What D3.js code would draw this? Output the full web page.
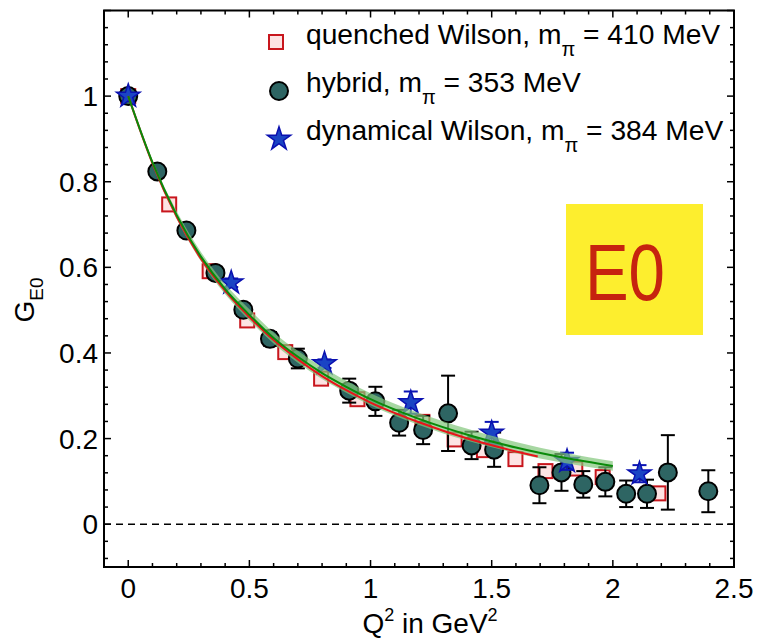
<!DOCTYPE html>
<html>
<head>
<meta charset="utf-8">
<script src="https://cdn.jsdelivr.net/npm/d3@7"></script>
<style>
body { margin: 0; background: #fff; }
text { font-family: "Liberation Sans", Arial, sans-serif; }
</style>
</head>
<body>
<svg id="chart"></svg>
<script>
// G_E0 form factor vs Q^2

// quenched Wilson
var quenchedQ2 = [0, 0.169, 0.336, 0.491, 0.648, 0.796, 0.946, 1.214, 1.347, 1.468, 1.598, 1.722, 1.845, 1.958, 2.188];
var quenchedG  = [1.0, 0.747, 0.591, 0.476, 0.402, 0.340, 0.292, 0.239, 0.198, 0.173, 0.152, 0.124, 0.130, 0.110, 0.072];

// hybrid
var hybridQ2  = [0, 0.12, 0.24, 0.36, 0.475, 0.585, 0.70, 0.912, 1.02, 1.118, 1.217, 1.32, 1.417, 1.51, 1.697, 1.788, 1.878, 1.969, 2.055, 2.141, 2.227, 2.394];
var hybridG   = [1.0, 0.824, 0.686, 0.587, 0.501, 0.433, 0.387, 0.312, 0.287, 0.237, 0.220, 0.259, 0.184, 0.174, 0.091, 0.121, 0.093, 0.099, 0.071, 0.071, 0.121, 0.077];
var hybridErr = [0, 0.005, 0.008, 0.010, 0.014, 0.016, 0.023, 0.028, 0.034, 0.030, 0.033, 0.088, 0.032, 0.040, 0.042, 0.043, 0.031, 0.034, 0.031, 0.033, 0.087, 0.049];

// dynamical Wilson
var dynQ2  = [0, 0.425, 0.81, 1.166, 1.50, 1.811, 2.11];
var dynG   = [1.0, 0.564, 0.375, 0.284, 0.213, 0.147, 0.118];
var dynErr = [0, 0.010, 0.010, 0.026, 0.026, 0.020, 0.020];

// fit curves
var fitQ2    = [0, 0.1, 0.2, 0.3, 0.4, 0.5, 0.6, 0.7, 0.8, 0.9, 1.0, 1.2, 1.4, 1.6, 1.8, 2.0];
var greenFit = [1.0, 0.845, 0.722, 0.625, 0.549, 0.489, 0.435, 0.391, 0.353, 0.321, 0.292, 0.246, 0.209, 0.179, 0.155, 0.136];
var greenErr = [0, 0.006, 0.009, 0.011, 0.012, 0.013, 0.013, 0.014, 0.014, 0.014, 0.014, 0.014, 0.014, 0.013, 0.012, 0.011];
var redQ2    = [0, 0.1, 0.2, 0.3, 0.4, 0.5, 0.6, 0.7, 0.8, 0.9, 1.0, 1.2, 1.4, 1.6, 1.69];
var redFit   = [1.0, 0.843, 0.718, 0.620, 0.545, 0.484, 0.430, 0.385, 0.346, 0.313, 0.284, 0.238, 0.200, 0.170, 0.158];

var xTicks = [0, 0.5, 1, 1.5, 2, 2.5];
var yTicks = [0, 0.2, 0.4, 0.6, 0.8, 1];

var legendLabels = [
    ["quenched Wilson, m", "410 MeV"],
    ["hybrid, m", "353 MeV"],
    ["dynamical Wilson, m", "384 MeV"]
];

var svgWidth = 758, svgHeight = 640;
var svg = d3.select("#chart")
    .attr("width", svgWidth)
    .attr("height", svgHeight);

var x = d3.scaleLinear().domain([-0.1, 2.5]).range([104, 734]);
var y = d3.scaleLinear().domain([-0.1, 1.2]).range([567, 10.5]);

function zip(a, b, c) {
    return a.map(function(v, i) { return {q: v, g: b[i], e: c ? c[i] : 0}; });
}
var quenched = zip(quenchedQ2, quenchedG);
var hybrid = zip(hybridQ2, hybridG, hybridErr);
var dyn = zip(dynQ2, dynG, dynErr);
var green = zip(fitQ2, greenFit, greenErr);
var red = zip(redQ2, redFit);

// dashed zero line
svg.append("line")
    .attr("x1", x(-0.1)).attr("x2", x(2.5))
    .attr("y1", y(0)).attr("y2", y(0))
    .attr("stroke", "#000").attr("stroke-width", 1.5)
    .attr("stroke-dasharray", "7,5");

// quenched squares
svg.selectAll("rect.q")
    .data(quenched)
    .enter()
    .append("rect")
    .attr("class", "q")
    .attr("x", function(d) { return x(d.q) - 7; })
    .attr("y", function(d) { return y(d.g) - 7; })
    .attr("width", 14).attr("height", 14)
    .attr("fill", "#fde3e3")
    .attr("stroke", "#c8161d")
    .attr("stroke-width", 2);

// error bars
function errorBars(data, color, cls) {
    var eb = svg.selectAll("g." + cls)
        .data(data.filter(function(d) { return d.e > 0; }))
        .enter()
        .append("g")
        .attr("class", cls)
        .attr("stroke", color)
        .attr("stroke-width", 2);
    eb.append("line")
        .attr("x1", function(d) { return x(d.q); })
        .attr("x2", function(d) { return x(d.q); })
        .attr("y1", function(d) { return y(d.g - d.e); })
        .attr("y2", function(d) { return y(d.g + d.e); });
    eb.append("line")
        .attr("x1", function(d) { return x(d.q) - 7; })
        .attr("x2", function(d) { return x(d.q) + 7; })
        .attr("y1", function(d) { return y(d.g - d.e); })
        .attr("y2", function(d) { return y(d.g - d.e); });
    eb.append("line")
        .attr("x1", function(d) { return x(d.q) - 7; })
        .attr("x2", function(d) { return x(d.q) + 7; })
        .attr("y1", function(d) { return y(d.g + d.e); })
        .attr("y2", function(d) { return y(d.g + d.e); });
}

errorBars(hybrid, "#000", "he");

svg.selectAll("circle.h")
    .data(hybrid)
    .enter()
    .append("circle")
    .attr("class", "h")
    .attr("cx", function(d) { return x(d.q); })
    .attr("cy", function(d) { return y(d.g); })
    .attr("r", 9)
    .attr("fill", "#2e6563")
    .attr("stroke", "#000")
    .attr("stroke-width", 2);

errorBars(dyn, "#0a14b4", "de");

var star = d3.symbol().type(d3.symbolStar).size(170);
svg.selectAll("path.d")
    .data(dyn)
    .enter()
    .append("path")
    .attr("class", "d")
    .attr("d", star)
    .attr("transform", function(d) { return "translate(" + x(d.q) + "," + y(d.g) + ")"; })
    .attr("fill", "#1a44c4")
    .attr("stroke", "#0a10b0")
    .attr("stroke-width", 1.5);

// fit band and lines
var area = d3.area()
    .x(function(d) { return x(d.q); })
    .y0(function(d) { return y(d.g - d.e); })
    .y1(function(d) { return y(d.g + d.e); })
    .curve(d3.curveMonotoneX);
svg.append("path")
    .datum(green)
    .attr("d", area)
    .attr("fill", "#82c67a")
    .attr("fill-opacity", 0.7);

var line = d3.line()
    .x(function(d) { return x(d.q); })
    .y(function(d) { return y(d.g); })
    .curve(d3.curveMonotoneX);
svg.append("path")
    .datum(red)
    .attr("d", line)
    .attr("fill", "none")
    .attr("stroke", "#e8141b")
    .attr("stroke-width", 2);
svg.append("path")
    .datum(green)
    .attr("d", line)
    .attr("fill", "none")
    .attr("stroke", "#0a8a0a")
    .attr("stroke-width", 2);

// frame with inward ticks on all sides
var frame = svg.append("g").attr("stroke", "#000").attr("stroke-width", 2);
frame.append("rect")
    .attr("x", x(-0.1)).attr("y", y(1.2))
    .attr("width", x(2.5) - x(-0.1)).attr("height", y(-0.1) - y(1.2))
    .attr("fill", "none");

var xMinor = d3.range(0, 26).map(function(i) { return i / 10; });
var yMinor = d3.range(-2, 31).map(function(i) { return i * 0.04; });

xMinor.forEach(function(v) {
    var major = xTicks.indexOf(Math.round(v * 10) / 10) >= 0;
    var len = major ? 7 : 4;
    frame.append("line").attr("x1", x(v)).attr("x2", x(v))
        .attr("y1", y(-0.1)).attr("y2", y(-0.1) - len).attr("stroke-width", 1.5);
    frame.append("line").attr("x1", x(v)).attr("x2", x(v))
        .attr("y1", y(1.2)).attr("y2", y(1.2) + len).attr("stroke-width", 1.5);
});
yMinor.forEach(function(v) {
    var r = Math.round(v * 100) / 100;
    var major = Math.abs(r * 5 - Math.round(r * 5)) < 1e-6;
    var len = major ? 7 : 4;
    frame.append("line").attr("y1", y(v)).attr("y2", y(v))
        .attr("x1", x(-0.1)).attr("x2", x(-0.1) + len).attr("stroke-width", 1.5);
    frame.append("line").attr("y1", y(v)).attr("y2", y(v))
        .attr("x1", x(2.5)).attr("x2", x(2.5) - len).attr("stroke-width", 1.5);
});

// tick labels
svg.selectAll("text.xt")
    .data(xTicks)
    .enter()
    .append("text")
    .attr("x", function(d) { return x(d); })
    .attr("y", 598)
    .attr("text-anchor", "middle")
    .attr("font-size", 28)
    .text(function(d) { return d; });
svg.selectAll("text.yt")
    .data(yTicks)
    .enter()
    .append("text")
    .attr("x", 98)
    .attr("y", function(d) { return y(d) + 10; })
    .attr("text-anchor", "end")
    .attr("font-size", 28)
    .text(function(d) { return d; });

// axis titles
var xt = svg.append("text")
    .attr("x", 430).attr("y", 633)
    .attr("text-anchor", "middle")
    .attr("font-size", 28);
xt.append("tspan").text("Q");
xt.append("tspan").attr("font-size", 18).attr("dy", -12).text("2");
xt.append("tspan").attr("dy", 12).text(" in GeV");
xt.append("tspan").attr("font-size", 18).attr("dy", -12).text("2");

var yt = svg.append("text")
    .attr("transform", "translate(34,300) rotate(-90)")
    .attr("text-anchor", "middle")
    .attr("font-size", 28);
yt.append("tspan").text("G");
yt.append("tspan").attr("font-size", 19).attr("dy", 9).text("E0");

// legend
var legendY = [44, 92, 140];
legendLabels.forEach(function(l, i) {
    var t = svg.append("text")
        .attr("x", 306).attr("y", legendY[i])
        .attr("font-size", 28.2);
    t.append("tspan").text(l[0]);
    t.append("tspan").attr("font-size", 20).attr("dy", 12).text("\u03c0");
    t.append("tspan").attr("dy", -12).text(" = " + l[1]);
});
svg.append("rect")
    .attr("x", 276 - 7).attr("y", legendY[0] - 2 - 7)
    .attr("width", 14).attr("height", 14)
    .attr("fill", "#fde3e3").attr("stroke", "#c8161d").attr("stroke-width", 2);
svg.append("circle")
    .attr("cx", 279).attr("cy", legendY[1] - 1).attr("r", 9)
    .attr("fill", "#2e6563").attr("stroke", "#000").attr("stroke-width", 2);
svg.append("path")
    .attr("d", star)
    .attr("transform", "translate(279," + (legendY[2] - 1) + ")")
    .attr("fill", "#1a44c4").attr("stroke", "#0a10b0").attr("stroke-width", 1.5);

// E0 badge
svg.append("rect")
    .attr("x", 566).attr("y", 204)
    .attr("width", 137).attr("height", 131)
    .attr("fill", "#fdee2e");
svg.append("text")
    .attr("x", 585).attr("y", 300)
    .attr("textLength", 80)
    .attr("lengthAdjust", "spacingAndGlyphs")
    .attr("font-family", "'Open Sans', 'Noto Sans', sans-serif")
    .attr("font-size", 79)
    .attr("fill", "#c6230f")
    .text("E0");
</script>
</body>
</html>
